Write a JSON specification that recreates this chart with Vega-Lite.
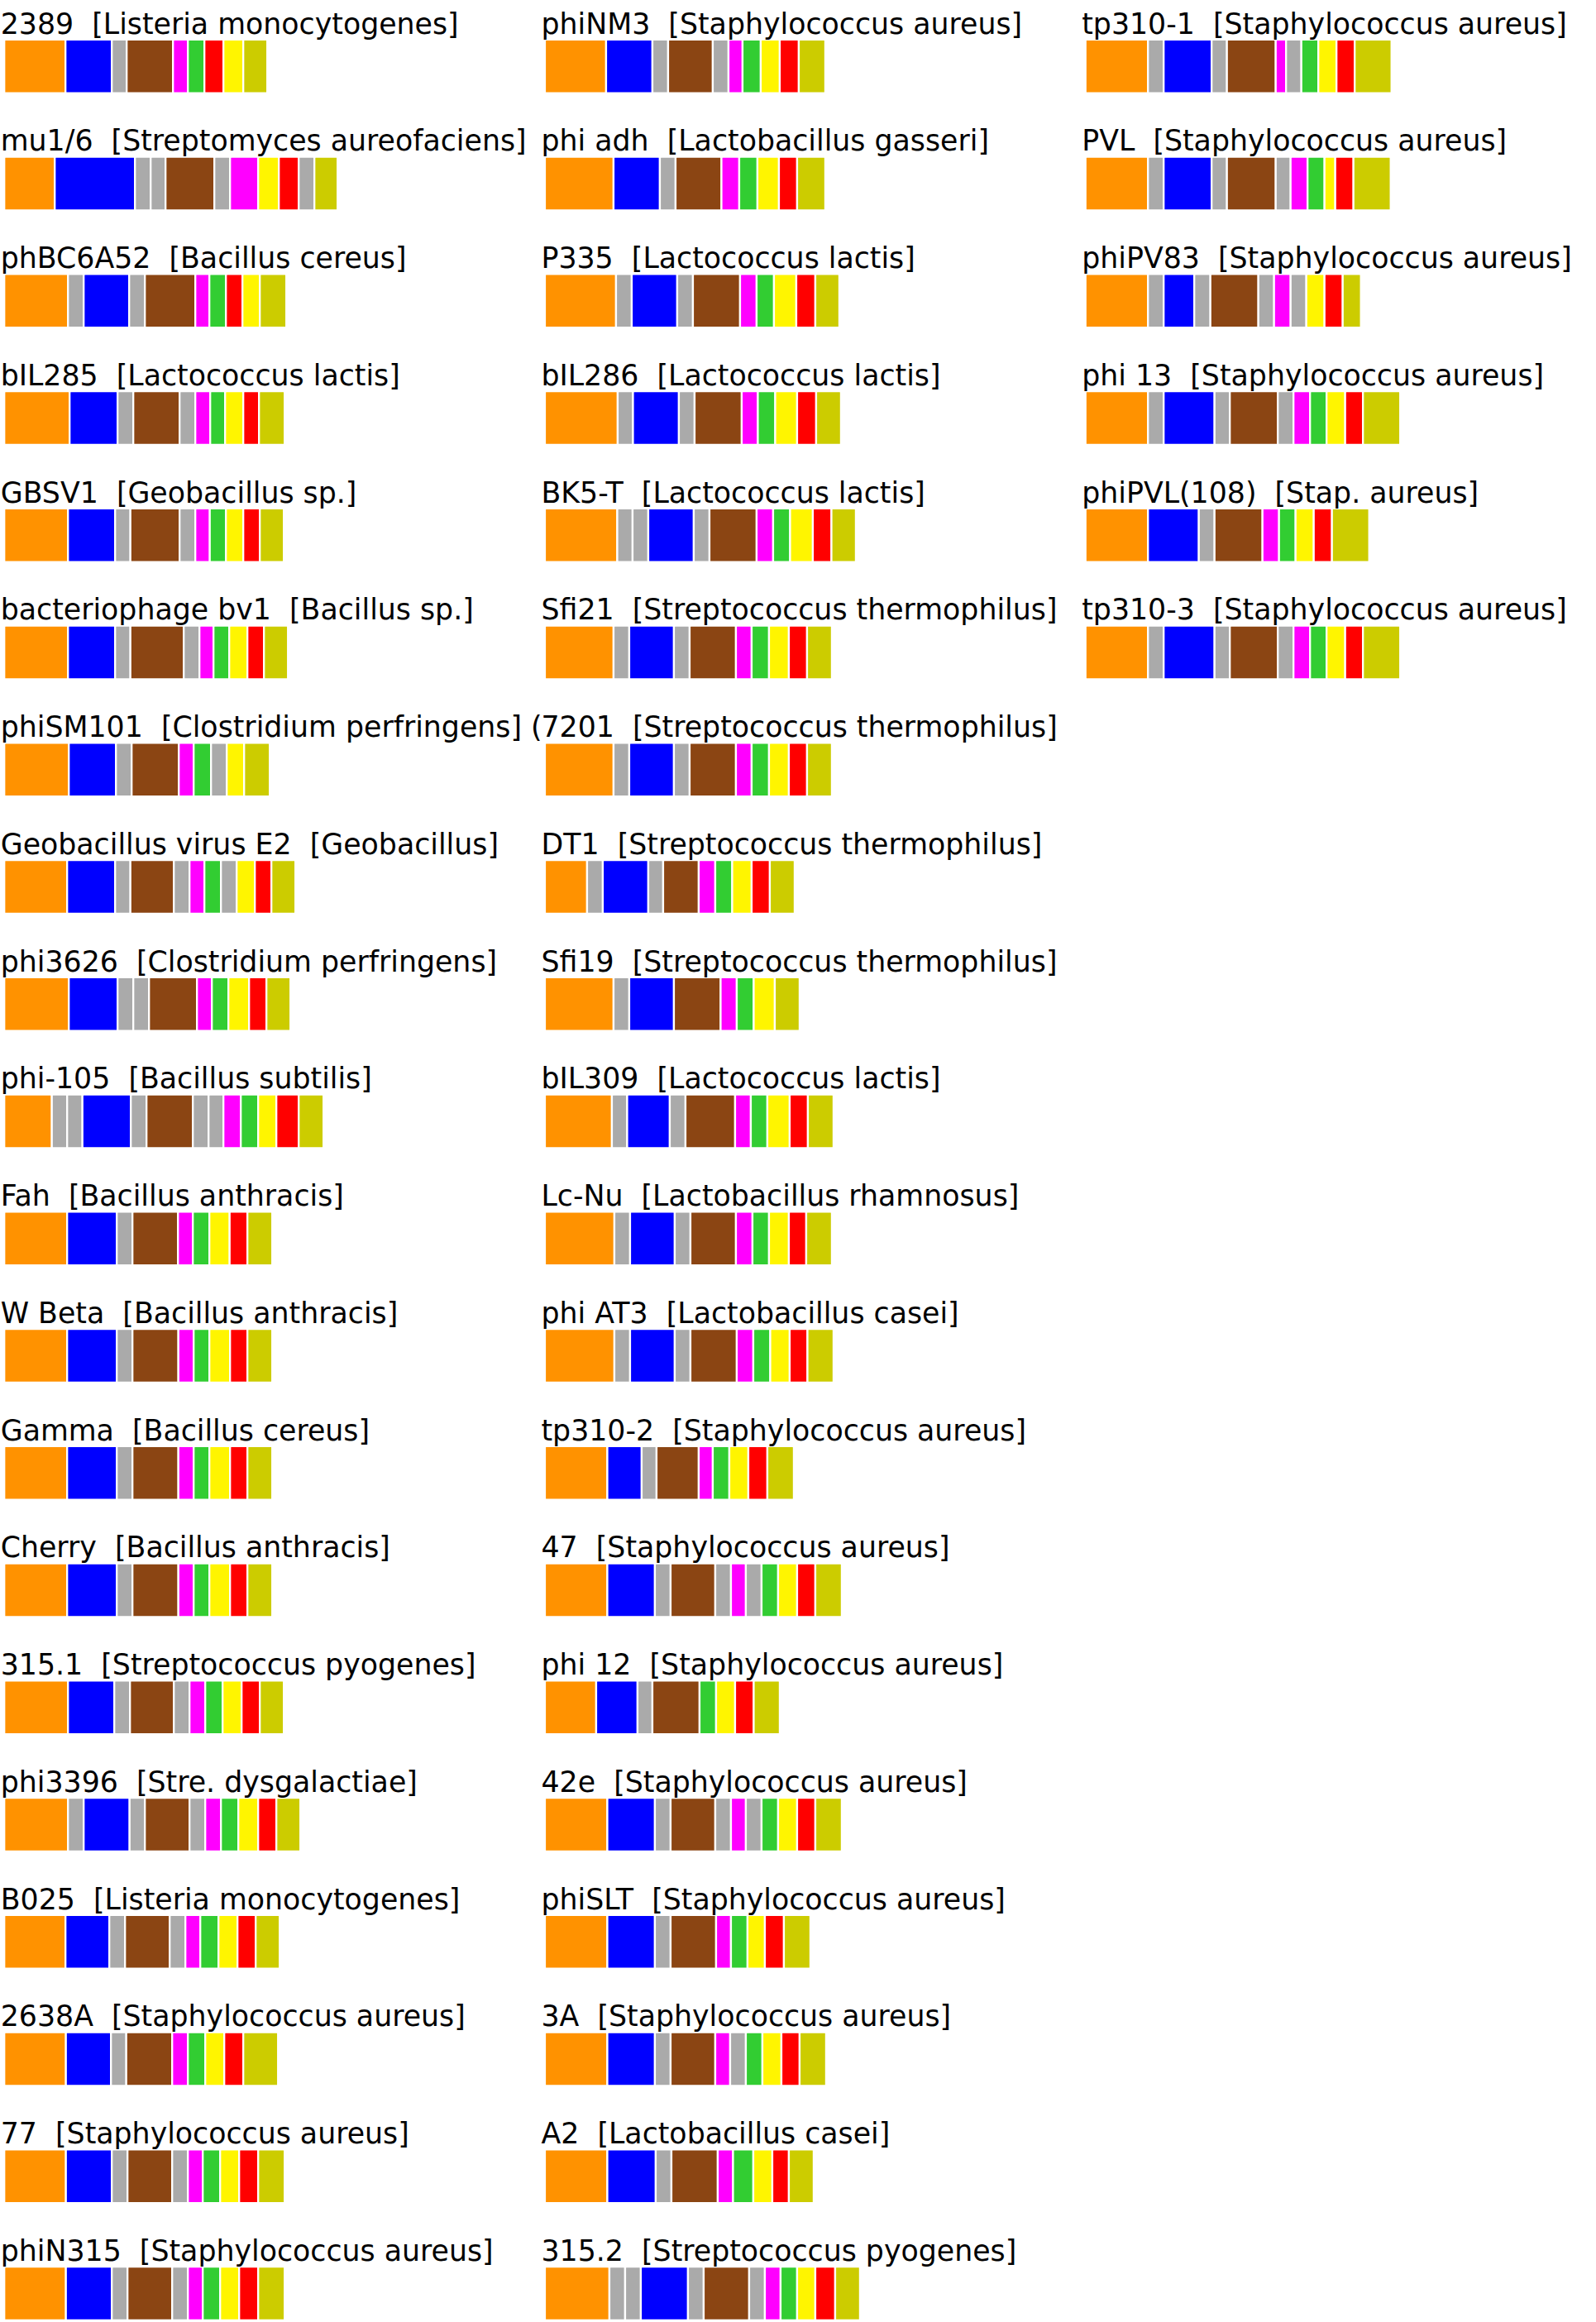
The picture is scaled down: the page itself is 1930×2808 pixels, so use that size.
{
"$schema": "https://vega.github.io/schema/vega-lite/v6.json",
"padding": 0,
"background": "white",
"bounds": "flush",
"datasets": {
"panels": [
{"p":"2389","label":"2389\u00a0\u00a0[Listeria monocytogenes]","c":1,"r":1},
{"p":"mu1/6","label":"mu1/6\u00a0\u00a0[Streptomyces aureofaciens]","c":1,"r":2},
{"p":"phBC6A52","label":"phBC6A52\u00a0\u00a0[Bacillus cereus]","c":1,"r":3},
{"p":"bIL285","label":"bIL285\u00a0\u00a0[Lactococcus lactis]","c":1,"r":4},
{"p":"GBSV1","label":"GBSV1\u00a0\u00a0[Geobacillus sp.]","c":1,"r":5},
{"p":"bacteriophage bv1","label":"bacteriophage bv1\u00a0\u00a0[Bacillus sp.]","c":1,"r":6},
{"p":"phiSM101","label":"phiSM101\u00a0\u00a0[Clostridium perfringens] (","c":1,"r":7},
{"p":"Geobacillus virus E2","label":"Geobacillus virus E2\u00a0\u00a0[Geobacillus]","c":1,"r":8},
{"p":"phi3626","label":"phi3626\u00a0\u00a0[Clostridium perfringens]","c":1,"r":9},
{"p":"phi-105","label":"phi-105\u00a0\u00a0[Bacillus subtilis]","c":1,"r":10},
{"p":"Fah","label":"Fah\u00a0\u00a0[Bacillus anthracis]","c":1,"r":11},
{"p":"W Beta","label":"W Beta\u00a0\u00a0[Bacillus anthracis]","c":1,"r":12},
{"p":"Gamma","label":"Gamma\u00a0\u00a0[Bacillus cereus]","c":1,"r":13},
{"p":"Cherry","label":"Cherry\u00a0\u00a0[Bacillus anthracis]","c":1,"r":14},
{"p":"315.1","label":"315.1\u00a0\u00a0[Streptococcus pyogenes]","c":1,"r":15},
{"p":"phi3396","label":"phi3396\u00a0\u00a0[Stre. dysgalactiae]","c":1,"r":16},
{"p":"B025","label":"B025\u00a0\u00a0[Listeria monocytogenes]","c":1,"r":17},
{"p":"2638A","label":"2638A\u00a0\u00a0[Staphylococcus aureus]","c":1,"r":18},
{"p":"77","label":"77\u00a0\u00a0[Staphylococcus aureus]","c":1,"r":19},
{"p":"phiN315","label":"phiN315\u00a0\u00a0[Staphylococcus aureus]","c":1,"r":20},
{"p":"phiNM3","label":"phiNM3\u00a0\u00a0[Staphylococcus aureus]","c":2,"r":1},
{"p":"phi adh","label":"phi adh\u00a0\u00a0[Lactobacillus gasseri]","c":2,"r":2},
{"p":"P335","label":"P335\u00a0\u00a0[Lactococcus lactis]","c":2,"r":3},
{"p":"bIL286","label":"bIL286\u00a0\u00a0[Lactococcus lactis]","c":2,"r":4},
{"p":"BK5-T","label":"BK5-T\u00a0\u00a0[Lactococcus lactis]","c":2,"r":5},
{"p":"Sfi21","label":"Sfi21\u00a0\u00a0[Streptococcus thermophilus]","c":2,"r":6},
{"p":"7201","label":"7201\u00a0\u00a0[Streptococcus thermophilus]","c":2,"r":7},
{"p":"DT1","label":"DT1\u00a0\u00a0[Streptococcus thermophilus]","c":2,"r":8},
{"p":"Sfi19","label":"Sfi19\u00a0\u00a0[Streptococcus thermophilus]","c":2,"r":9},
{"p":"bIL309","label":"bIL309\u00a0\u00a0[Lactococcus lactis]","c":2,"r":10},
{"p":"Lc-Nu","label":"Lc-Nu\u00a0\u00a0[Lactobacillus rhamnosus]","c":2,"r":11},
{"p":"phi AT3","label":"phi AT3\u00a0\u00a0[Lactobacillus casei]","c":2,"r":12},
{"p":"tp310-2","label":"tp310-2\u00a0\u00a0[Staphylococcus aureus]","c":2,"r":13},
{"p":"47","label":"47\u00a0\u00a0[Staphylococcus aureus]","c":2,"r":14},
{"p":"phi 12","label":"phi 12\u00a0\u00a0[Staphylococcus aureus]","c":2,"r":15},
{"p":"42e","label":"42e\u00a0\u00a0[Staphylococcus aureus]","c":2,"r":16},
{"p":"phiSLT","label":"phiSLT\u00a0\u00a0[Staphylococcus aureus]","c":2,"r":17},
{"p":"3A","label":"3A\u00a0\u00a0[Staphylococcus aureus]","c":2,"r":18},
{"p":"A2","label":"A2\u00a0\u00a0[Lactobacillus casei]","c":2,"r":19},
{"p":"315.2","label":"315.2\u00a0\u00a0[Streptococcus pyogenes]","c":2,"r":20},
{"p":"tp310-1","label":"tp310-1\u00a0\u00a0[Staphylococcus aureus]","c":3,"r":1},
{"p":"PVL","label":"PVL\u00a0\u00a0[Staphylococcus aureus]","c":3,"r":2},
{"p":"phiPV83","label":"phiPV83\u00a0\u00a0[Staphylococcus aureus]","c":3,"r":3},
{"p":"phi 13","label":"phi 13\u00a0\u00a0[Staphylococcus aureus]","c":3,"r":4},
{"p":"phiPVL(108)","label":"phiPVL(108)\u00a0\u00a0[Stap. aureus]","c":3,"r":5},
{"p":"tp310-3","label":"tp310-3\u00a0\u00a0[Staphylococcus aureus]","c":3,"r":6}
],
"genes": [
{"p":"2389","g":"orange","s":0,"e":74},{"p":"2389","g":"blue","s":74,"e":130},{"p":"2389","g":"gray","s":130,"e":148},{"p":"2389","g":"brown","s":148,"e":204},{"p":"2389","g":"magenta","s":204,"e":222},{"p":"2389","g":"green","s":222,"e":242},{"p":"2389","g":"red","s":242,"e":265},{"p":"2389","g":"yellow","s":265,"e":289},{"p":"2389","g":"olive","s":289,"e":318},
{"p":"mu1/6","g":"orange","s":0,"e":61},{"p":"mu1/6","g":"blue","s":61,"e":158},{"p":"mu1/6","g":"gray","s":158,"e":177},{"p":"mu1/6","g":"gray","s":177,"e":195},{"p":"mu1/6","g":"brown","s":195,"e":254},{"p":"mu1/6","g":"gray","s":254,"e":273},{"p":"mu1/6","g":"magenta","s":273,"e":307},{"p":"mu1/6","g":"yellow","s":307,"e":332},{"p":"mu1/6","g":"red","s":332,"e":356},{"p":"mu1/6","g":"gray","s":356,"e":375},{"p":"mu1/6","g":"olive","s":375,"e":403},
{"p":"phBC6A52","g":"orange","s":0,"e":77},{"p":"phBC6A52","g":"gray","s":77,"e":96},{"p":"phBC6A52","g":"blue","s":96,"e":151},{"p":"phBC6A52","g":"gray","s":151,"e":170},{"p":"phBC6A52","g":"brown","s":170,"e":231},{"p":"phBC6A52","g":"magenta","s":231,"e":248},{"p":"phBC6A52","g":"green","s":248,"e":268},{"p":"phBC6A52","g":"red","s":268,"e":288},{"p":"phBC6A52","g":"yellow","s":288,"e":309},{"p":"phBC6A52","g":"olive","s":309,"e":341},
{"p":"bIL285","g":"orange","s":0,"e":79},{"p":"bIL285","g":"blue","s":79,"e":137},{"p":"bIL285","g":"gray","s":137,"e":156},{"p":"bIL285","g":"brown","s":156,"e":212},{"p":"bIL285","g":"gray","s":212,"e":231},{"p":"bIL285","g":"magenta","s":231,"e":249},{"p":"bIL285","g":"green","s":249,"e":267},{"p":"bIL285","g":"yellow","s":267,"e":289},{"p":"bIL285","g":"red","s":289,"e":308},{"p":"bIL285","g":"olive","s":308,"e":339},
{"p":"GBSV1","g":"orange","s":0,"e":77},{"p":"GBSV1","g":"blue","s":77,"e":134},{"p":"GBSV1","g":"gray","s":134,"e":152.5},{"p":"GBSV1","g":"brown","s":152.5,"e":212},{"p":"GBSV1","g":"gray","s":212,"e":231},{"p":"GBSV1","g":"magenta","s":231,"e":248.5},{"p":"GBSV1","g":"green","s":248.5,"e":268},{"p":"GBSV1","g":"yellow","s":268,"e":289},{"p":"GBSV1","g":"red","s":289,"e":309},{"p":"GBSV1","g":"olive","s":309,"e":338},
{"p":"bacteriophage bv1","g":"orange","s":0,"e":77},{"p":"bacteriophage bv1","g":"blue","s":77,"e":134},{"p":"bacteriophage bv1","g":"gray","s":134,"e":152.5},{"p":"bacteriophage bv1","g":"brown","s":152.5,"e":217},{"p":"bacteriophage bv1","g":"gray","s":217,"e":236},{"p":"bacteriophage bv1","g":"magenta","s":236,"e":253},{"p":"bacteriophage bv1","g":"green","s":253,"e":272},{"p":"bacteriophage bv1","g":"yellow","s":272,"e":294},{"p":"bacteriophage bv1","g":"red","s":294,"e":314},{"p":"bacteriophage bv1","g":"olive","s":314,"e":343},
{"p":"phiSM101","g":"orange","s":0,"e":78},{"p":"phiSM101","g":"blue","s":78,"e":135},{"p":"phiSM101","g":"gray","s":135,"e":154},{"p":"phiSM101","g":"brown","s":154,"e":211},{"p":"phiSM101","g":"magenta","s":211,"e":229},{"p":"phiSM101","g":"green","s":229,"e":250},{"p":"phiSM101","g":"gray","s":250,"e":269},{"p":"phiSM101","g":"yellow","s":269,"e":290},{"p":"phiSM101","g":"olive","s":290,"e":321},
{"p":"Geobacillus virus E2","g":"orange","s":0,"e":76},{"p":"Geobacillus virus E2","g":"blue","s":76,"e":134},{"p":"Geobacillus virus E2","g":"gray","s":134,"e":152.5},{"p":"Geobacillus virus E2","g":"brown","s":152.5,"e":205},{"p":"Geobacillus virus E2","g":"gray","s":205,"e":224},{"p":"Geobacillus virus E2","g":"magenta","s":224,"e":242},{"p":"Geobacillus virus E2","g":"green","s":242,"e":262},{"p":"Geobacillus virus E2","g":"gray","s":262,"e":281},{"p":"Geobacillus virus E2","g":"yellow","s":281,"e":303},{"p":"Geobacillus virus E2","g":"red","s":303,"e":323},{"p":"Geobacillus virus E2","g":"olive","s":323,"e":352},
{"p":"phi3626","g":"orange","s":0,"e":78},{"p":"phi3626","g":"blue","s":78,"e":137},{"p":"phi3626","g":"gray","s":137,"e":156},{"p":"phi3626","g":"gray","s":156,"e":175},{"p":"phi3626","g":"brown","s":175,"e":233},{"p":"phi3626","g":"magenta","s":233,"e":251},{"p":"phi3626","g":"green","s":251,"e":271},{"p":"phi3626","g":"yellow","s":271,"e":296},{"p":"phi3626","g":"red","s":296,"e":317},{"p":"phi3626","g":"olive","s":317,"e":346},
{"p":"phi-105","g":"orange","s":0,"e":57.5},{"p":"phi-105","g":"gray","s":57.5,"e":76},{"p":"phi-105","g":"gray","s":76,"e":94.5},{"p":"phi-105","g":"blue","s":94.5,"e":153},{"p":"phi-105","g":"gray","s":153,"e":172},{"p":"phi-105","g":"brown","s":172,"e":228},{"p":"phi-105","g":"gray","s":228,"e":247},{"p":"phi-105","g":"gray","s":247,"e":265},{"p":"phi-105","g":"magenta","s":265,"e":286},{"p":"phi-105","g":"green","s":286,"e":307},{"p":"phi-105","g":"yellow","s":307,"e":329},{"p":"phi-105","g":"red","s":329,"e":356},{"p":"phi-105","g":"olive","s":356,"e":386},
{"p":"Fah","g":"orange","s":0,"e":76},{"p":"Fah","g":"blue","s":76,"e":136},{"p":"Fah","g":"gray","s":136,"e":155},{"p":"Fah","g":"brown","s":155,"e":210},{"p":"Fah","g":"magenta","s":210,"e":228},{"p":"Fah","g":"green","s":228,"e":248},{"p":"Fah","g":"yellow","s":248,"e":272.5},{"p":"Fah","g":"red","s":272.5,"e":294},{"p":"Fah","g":"olive","s":294,"e":324},
{"p":"W Beta","g":"orange","s":0,"e":76},{"p":"W Beta","g":"blue","s":76,"e":136},{"p":"W Beta","g":"gray","s":136,"e":155},{"p":"W Beta","g":"brown","s":155,"e":210.5},{"p":"W Beta","g":"magenta","s":210.5,"e":229},{"p":"W Beta","g":"green","s":229,"e":248},{"p":"W Beta","g":"yellow","s":248,"e":273},{"p":"W Beta","g":"red","s":273,"e":294},{"p":"W Beta","g":"olive","s":294,"e":324},
{"p":"Gamma","g":"orange","s":0,"e":76},{"p":"Gamma","g":"blue","s":76,"e":136},{"p":"Gamma","g":"gray","s":136,"e":155},{"p":"Gamma","g":"brown","s":155,"e":210.5},{"p":"Gamma","g":"magenta","s":210.5,"e":229},{"p":"Gamma","g":"green","s":229,"e":248},{"p":"Gamma","g":"yellow","s":248,"e":273},{"p":"Gamma","g":"red","s":273,"e":294},{"p":"Gamma","g":"olive","s":294,"e":324},
{"p":"Cherry","g":"orange","s":0,"e":76},{"p":"Cherry","g":"blue","s":76,"e":136},{"p":"Cherry","g":"gray","s":136,"e":155},{"p":"Cherry","g":"brown","s":155,"e":210.5},{"p":"Cherry","g":"magenta","s":210.5,"e":229},{"p":"Cherry","g":"green","s":229,"e":248},{"p":"Cherry","g":"yellow","s":248,"e":273},{"p":"Cherry","g":"red","s":273,"e":294},{"p":"Cherry","g":"olive","s":294,"e":324},
{"p":"315.1","g":"orange","s":0,"e":77},{"p":"315.1","g":"blue","s":77,"e":133},{"p":"315.1","g":"gray","s":133,"e":152},{"p":"315.1","g":"brown","s":152,"e":205},{"p":"315.1","g":"gray","s":205,"e":224},{"p":"315.1","g":"magenta","s":224,"e":243},{"p":"315.1","g":"green","s":243,"e":264},{"p":"315.1","g":"yellow","s":264,"e":287},{"p":"315.1","g":"red","s":287,"e":309},{"p":"315.1","g":"olive","s":309,"e":338},
{"p":"phi3396","g":"orange","s":0,"e":77},{"p":"phi3396","g":"gray","s":77,"e":96},{"p":"phi3396","g":"blue","s":96,"e":151.5},{"p":"phi3396","g":"gray","s":151.5,"e":170},{"p":"phi3396","g":"brown","s":170,"e":224},{"p":"phi3396","g":"gray","s":224,"e":243},{"p":"phi3396","g":"magenta","s":243,"e":262},{"p":"phi3396","g":"green","s":262,"e":283},{"p":"phi3396","g":"yellow","s":283,"e":307},{"p":"phi3396","g":"red","s":307,"e":329},{"p":"phi3396","g":"olive","s":329,"e":358},
{"p":"B025","g":"orange","s":0,"e":74},{"p":"B025","g":"blue","s":74,"e":127},{"p":"B025","g":"gray","s":127,"e":146},{"p":"B025","g":"brown","s":146,"e":200},{"p":"B025","g":"gray","s":200,"e":219},{"p":"B025","g":"magenta","s":219,"e":237},{"p":"B025","g":"green","s":237,"e":259},{"p":"B025","g":"yellow","s":259,"e":282},{"p":"B025","g":"red","s":282,"e":304},{"p":"B025","g":"olive","s":304,"e":333},
{"p":"2638A","g":"orange","s":0,"e":74.5},{"p":"2638A","g":"blue","s":74.5,"e":129},{"p":"2638A","g":"gray","s":129,"e":147.5},{"p":"2638A","g":"brown","s":147.5,"e":203},{"p":"2638A","g":"magenta","s":203,"e":222},{"p":"2638A","g":"green","s":222,"e":243},{"p":"2638A","g":"yellow","s":243,"e":266},{"p":"2638A","g":"red","s":266,"e":289},{"p":"2638A","g":"olive","s":289,"e":331},
{"p":"77","g":"orange","s":0,"e":74.5},{"p":"77","g":"blue","s":74.5,"e":130},{"p":"77","g":"gray","s":130,"e":149},{"p":"77","g":"brown","s":149,"e":203},{"p":"77","g":"gray","s":203,"e":222},{"p":"77","g":"magenta","s":222,"e":240},{"p":"77","g":"green","s":240,"e":261},{"p":"77","g":"yellow","s":261,"e":284},{"p":"77","g":"red","s":284,"e":307},{"p":"77","g":"olive","s":307,"e":339},
{"p":"phiN315","g":"orange","s":0,"e":74.5},{"p":"phiN315","g":"blue","s":74.5,"e":130},{"p":"phiN315","g":"gray","s":130,"e":149},{"p":"phiN315","g":"brown","s":149,"e":203},{"p":"phiN315","g":"gray","s":203,"e":222},{"p":"phiN315","g":"magenta","s":222,"e":240},{"p":"phiN315","g":"green","s":240,"e":261},{"p":"phiN315","g":"yellow","s":261,"e":284},{"p":"phiN315","g":"red","s":284,"e":307},{"p":"phiN315","g":"olive","s":307,"e":339},
{"p":"phiNM3","g":"orange","s":0,"e":74},{"p":"phiNM3","g":"blue","s":74,"e":130},{"p":"phiNM3","g":"gray","s":130,"e":149},{"p":"phiNM3","g":"brown","s":149,"e":203},{"p":"phiNM3","g":"gray","s":203,"e":222},{"p":"phiNM3","g":"magenta","s":222,"e":239},{"p":"phiNM3","g":"green","s":239,"e":261},{"p":"phiNM3","g":"yellow","s":261,"e":284},{"p":"phiNM3","g":"red","s":284,"e":307},{"p":"phiNM3","g":"olive","s":307,"e":339},
{"p":"phi adh","g":"orange","s":0,"e":83},{"p":"phi adh","g":"blue","s":83,"e":139},{"p":"phi adh","g":"gray","s":139,"e":158},{"p":"phi adh","g":"brown","s":158,"e":213.5},{"p":"phi adh","g":"magenta","s":213.5,"e":235},{"p":"phi adh","g":"green","s":235,"e":257},{"p":"phi adh","g":"yellow","s":257,"e":283},{"p":"phi adh","g":"red","s":283,"e":305},{"p":"phi adh","g":"olive","s":305,"e":339},
{"p":"P335","g":"orange","s":0,"e":86},{"p":"P335","g":"gray","s":86,"e":105},{"p":"P335","g":"blue","s":105,"e":160},{"p":"P335","g":"gray","s":160,"e":179},{"p":"P335","g":"brown","s":179,"e":236},{"p":"P335","g":"magenta","s":236,"e":256},{"p":"P335","g":"green","s":256,"e":277},{"p":"P335","g":"yellow","s":277,"e":304},{"p":"P335","g":"red","s":304,"e":327},{"p":"P335","g":"olive","s":327,"e":356},
{"p":"bIL286","g":"orange","s":0,"e":88},{"p":"bIL286","g":"gray","s":88,"e":106.5},{"p":"bIL286","g":"blue","s":106.5,"e":162},{"p":"bIL286","g":"gray","s":162,"e":181},{"p":"bIL286","g":"brown","s":181,"e":238},{"p":"bIL286","g":"magenta","s":238,"e":257.5},{"p":"bIL286","g":"green","s":257.5,"e":278.5},{"p":"bIL286","g":"yellow","s":278.5,"e":305},{"p":"bIL286","g":"red","s":305,"e":328},{"p":"bIL286","g":"olive","s":328,"e":358},
{"p":"BK5-T","g":"orange","s":0,"e":87.5},{"p":"BK5-T","g":"gray","s":87.5,"e":106},{"p":"BK5-T","g":"gray","s":106,"e":125},{"p":"BK5-T","g":"blue","s":125,"e":180},{"p":"BK5-T","g":"gray","s":180,"e":199},{"p":"BK5-T","g":"brown","s":199,"e":256},{"p":"BK5-T","g":"magenta","s":256,"e":276},{"p":"BK5-T","g":"green","s":276,"e":296.5},{"p":"BK5-T","g":"yellow","s":296.5,"e":324},{"p":"BK5-T","g":"red","s":324,"e":346.5},{"p":"BK5-T","g":"olive","s":346.5,"e":376},
{"p":"Sfi21","g":"orange","s":0,"e":83},{"p":"Sfi21","g":"gray","s":83,"e":102},{"p":"Sfi21","g":"blue","s":102,"e":156},{"p":"Sfi21","g":"gray","s":156,"e":175},{"p":"Sfi21","g":"brown","s":175,"e":231},{"p":"Sfi21","g":"magenta","s":231,"e":250},{"p":"Sfi21","g":"green","s":250,"e":271},{"p":"Sfi21","g":"yellow","s":271,"e":295},{"p":"Sfi21","g":"red","s":295,"e":317},{"p":"Sfi21","g":"olive","s":317,"e":347},
{"p":"7201","g":"orange","s":0,"e":83},{"p":"7201","g":"gray","s":83,"e":102},{"p":"7201","g":"blue","s":102,"e":156},{"p":"7201","g":"gray","s":156,"e":175},{"p":"7201","g":"brown","s":175,"e":231},{"p":"7201","g":"magenta","s":231,"e":250},{"p":"7201","g":"green","s":250,"e":271},{"p":"7201","g":"yellow","s":271,"e":295},{"p":"7201","g":"red","s":295,"e":317},{"p":"7201","g":"olive","s":317,"e":347},
{"p":"DT1","g":"orange","s":0,"e":51},{"p":"DT1","g":"gray","s":51,"e":70},{"p":"DT1","g":"blue","s":70,"e":125},{"p":"DT1","g":"gray","s":125,"e":143},{"p":"DT1","g":"brown","s":143,"e":186},{"p":"DT1","g":"magenta","s":186,"e":206},{"p":"DT1","g":"green","s":206,"e":226.5},{"p":"DT1","g":"yellow","s":226.5,"e":250},{"p":"DT1","g":"red","s":250,"e":272},{"p":"DT1","g":"olive","s":272,"e":302},
{"p":"Sfi19","g":"orange","s":0,"e":83},{"p":"Sfi19","g":"gray","s":83,"e":102},{"p":"Sfi19","g":"blue","s":102,"e":156},{"p":"Sfi19","g":"brown","s":156,"e":212.5},{"p":"Sfi19","g":"magenta","s":212.5,"e":232},{"p":"Sfi19","g":"green","s":232,"e":252.5},{"p":"Sfi19","g":"yellow","s":252.5,"e":278},{"p":"Sfi19","g":"olive","s":278,"e":308},
{"p":"bIL309","g":"orange","s":0,"e":81},{"p":"bIL309","g":"gray","s":81,"e":99.5},{"p":"bIL309","g":"blue","s":99.5,"e":151},{"p":"bIL309","g":"gray","s":151,"e":170},{"p":"bIL309","g":"brown","s":170,"e":230},{"p":"bIL309","g":"magenta","s":230,"e":249},{"p":"bIL309","g":"green","s":249,"e":269},{"p":"bIL309","g":"yellow","s":269,"e":296},{"p":"bIL309","g":"red","s":296,"e":318},{"p":"bIL309","g":"olive","s":318,"e":349},
{"p":"Lc-Nu","g":"orange","s":0,"e":84},{"p":"Lc-Nu","g":"gray","s":84,"e":103},{"p":"Lc-Nu","g":"blue","s":103,"e":157},{"p":"Lc-Nu","g":"gray","s":157,"e":176},{"p":"Lc-Nu","g":"brown","s":176,"e":231},{"p":"Lc-Nu","g":"magenta","s":231,"e":251},{"p":"Lc-Nu","g":"green","s":251,"e":271},{"p":"Lc-Nu","g":"yellow","s":271,"e":295},{"p":"Lc-Nu","g":"red","s":295,"e":316},{"p":"Lc-Nu","g":"olive","s":316,"e":347},
{"p":"phi AT3","g":"orange","s":0,"e":84},{"p":"phi AT3","g":"gray","s":84,"e":103},{"p":"phi AT3","g":"blue","s":103,"e":157},{"p":"phi AT3","g":"gray","s":157,"e":176},{"p":"phi AT3","g":"brown","s":176,"e":232},{"p":"phi AT3","g":"magenta","s":232,"e":252},{"p":"phi AT3","g":"green","s":252,"e":272.5},{"p":"phi AT3","g":"yellow","s":272.5,"e":296},{"p":"phi AT3","g":"red","s":296,"e":317.5},{"p":"phi AT3","g":"olive","s":317.5,"e":349},
{"p":"tp310-2","g":"orange","s":0,"e":75.5},{"p":"tp310-2","g":"blue","s":75.5,"e":117},{"p":"tp310-2","g":"gray","s":117,"e":135},{"p":"tp310-2","g":"brown","s":135,"e":186},{"p":"tp310-2","g":"magenta","s":186,"e":203},{"p":"tp310-2","g":"green","s":203,"e":223},{"p":"tp310-2","g":"yellow","s":223,"e":246},{"p":"tp310-2","g":"red","s":246,"e":269},{"p":"tp310-2","g":"olive","s":269,"e":301},
{"p":"47","g":"orange","s":0,"e":75.5},{"p":"47","g":"blue","s":75.5,"e":133},{"p":"47","g":"gray","s":133,"e":152},{"p":"47","g":"brown","s":152,"e":206},{"p":"47","g":"gray","s":206,"e":225},{"p":"47","g":"magenta","s":225,"e":243},{"p":"47","g":"gray","s":243,"e":262},{"p":"47","g":"green","s":262,"e":282},{"p":"47","g":"yellow","s":282,"e":305},{"p":"47","g":"red","s":305,"e":327},{"p":"47","g":"olive","s":327,"e":359},
{"p":"phi 12","g":"orange","s":0,"e":62},{"p":"phi 12","g":"blue","s":62,"e":112},{"p":"phi 12","g":"gray","s":112,"e":130},{"p":"phi 12","g":"brown","s":130,"e":187},{"p":"phi 12","g":"green","s":187,"e":207},{"p":"phi 12","g":"yellow","s":207,"e":230},{"p":"phi 12","g":"red","s":230,"e":252.5},{"p":"phi 12","g":"olive","s":252.5,"e":284},
{"p":"42e","g":"orange","s":0,"e":75.5},{"p":"42e","g":"blue","s":75.5,"e":133},{"p":"42e","g":"gray","s":133,"e":152},{"p":"42e","g":"brown","s":152,"e":206},{"p":"42e","g":"gray","s":206,"e":225},{"p":"42e","g":"magenta","s":225,"e":243},{"p":"42e","g":"gray","s":243,"e":262},{"p":"42e","g":"green","s":262,"e":282},{"p":"42e","g":"yellow","s":282,"e":305},{"p":"42e","g":"red","s":305,"e":327},{"p":"42e","g":"olive","s":327,"e":359},
{"p":"phiSLT","g":"orange","s":0,"e":75.5},{"p":"phiSLT","g":"blue","s":75.5,"e":133},{"p":"phiSLT","g":"gray","s":133,"e":152},{"p":"phiSLT","g":"brown","s":152,"e":207},{"p":"phiSLT","g":"magenta","s":207,"e":225},{"p":"phiSLT","g":"green","s":225,"e":245},{"p":"phiSLT","g":"yellow","s":245,"e":266},{"p":"phiSLT","g":"red","s":266,"e":289},{"p":"phiSLT","g":"olive","s":289,"e":321},
{"p":"3A","g":"orange","s":0,"e":75.5},{"p":"3A","g":"blue","s":75.5,"e":133},{"p":"3A","g":"gray","s":133,"e":152},{"p":"3A","g":"brown","s":152,"e":206},{"p":"3A","g":"magenta","s":206,"e":224},{"p":"3A","g":"gray","s":224,"e":243},{"p":"3A","g":"green","s":243,"e":263},{"p":"3A","g":"yellow","s":263,"e":286},{"p":"3A","g":"red","s":286,"e":308},{"p":"3A","g":"olive","s":308,"e":340},
{"p":"A2","g":"orange","s":0,"e":75.5},{"p":"A2","g":"blue","s":75.5,"e":134},{"p":"A2","g":"gray","s":134,"e":153},{"p":"A2","g":"brown","s":153,"e":209},{"p":"A2","g":"magenta","s":209,"e":227.5},{"p":"A2","g":"green","s":227.5,"e":252},{"p":"A2","g":"yellow","s":252,"e":275},{"p":"A2","g":"red","s":275,"e":295},{"p":"A2","g":"olive","s":295,"e":325},
{"p":"315.2","g":"orange","s":0,"e":78},{"p":"315.2","g":"gray","s":78,"e":97},{"p":"315.2","g":"gray","s":97,"e":116},{"p":"315.2","g":"blue","s":116,"e":173},{"p":"315.2","g":"gray","s":173,"e":192},{"p":"315.2","g":"brown","s":192,"e":247},{"p":"315.2","g":"gray","s":247,"e":266},{"p":"315.2","g":"magenta","s":266,"e":285},{"p":"315.2","g":"green","s":285,"e":305},{"p":"315.2","g":"yellow","s":305,"e":327},{"p":"315.2","g":"red","s":327,"e":351},{"p":"315.2","g":"olive","s":351,"e":381},
{"p":"tp310-1","g":"orange","s":0,"e":75.5},{"p":"tp310-1","g":"gray","s":75.5,"e":94.5},{"p":"tp310-1","g":"blue","s":94.5,"e":152.5},{"p":"tp310-1","g":"gray","s":152.5,"e":171},{"p":"tp310-1","g":"brown","s":171,"e":230},{"p":"tp310-1","g":"magenta","s":230,"e":242.5},{"p":"tp310-1","g":"gray","s":242.5,"e":261},{"p":"tp310-1","g":"green","s":261,"e":281.5},{"p":"tp310-1","g":"yellow","s":281.5,"e":303.5},{"p":"tp310-1","g":"red","s":303.5,"e":325.5},{"p":"tp310-1","g":"olive","s":325.5,"e":370},
{"p":"PVL","g":"orange","s":0,"e":75.5},{"p":"PVL","g":"gray","s":75.5,"e":94.5},{"p":"PVL","g":"blue","s":94.5,"e":152.5},{"p":"PVL","g":"gray","s":152.5,"e":171},{"p":"PVL","g":"brown","s":171,"e":230},{"p":"PVL","g":"gray","s":230,"e":248},{"p":"PVL","g":"magenta","s":248,"e":268.5},{"p":"PVL","g":"green","s":268.5,"e":289},{"p":"PVL","g":"yellow","s":289,"e":302},{"p":"PVL","g":"red","s":302,"e":324},{"p":"PVL","g":"olive","s":324,"e":369},
{"p":"phiPV83","g":"orange","s":0,"e":75.5},{"p":"phiPV83","g":"gray","s":75.5,"e":94.5},{"p":"phiPV83","g":"blue","s":94.5,"e":131.5},{"p":"phiPV83","g":"gray","s":131.5,"e":151},{"p":"phiPV83","g":"brown","s":151,"e":209},{"p":"phiPV83","g":"gray","s":209,"e":228},{"p":"phiPV83","g":"magenta","s":228,"e":248},{"p":"phiPV83","g":"gray","s":248,"e":267},{"p":"phiPV83","g":"yellow","s":267,"e":289},{"p":"phiPV83","g":"red","s":289,"e":311},{"p":"phiPV83","g":"olive","s":311,"e":333},
{"p":"phi 13","g":"orange","s":0,"e":75.5},{"p":"phi 13","g":"gray","s":75.5,"e":94.5},{"p":"phi 13","g":"blue","s":94.5,"e":156},{"p":"phi 13","g":"gray","s":156,"e":174.5},{"p":"phi 13","g":"brown","s":174.5,"e":232.5},{"p":"phi 13","g":"gray","s":232.5,"e":251.5},{"p":"phi 13","g":"magenta","s":251.5,"e":271.5},{"p":"phi 13","g":"green","s":271.5,"e":291.5},{"p":"phi 13","g":"yellow","s":291.5,"e":314},{"p":"phi 13","g":"red","s":314,"e":335.5},{"p":"phi 13","g":"olive","s":335.5,"e":380.5},
{"p":"phiPVL(108)","g":"orange","s":0,"e":75.5},{"p":"phiPVL(108)","g":"blue","s":75.5,"e":137},{"p":"phiPVL(108)","g":"gray","s":137,"e":156},{"p":"phiPVL(108)","g":"brown","s":156,"e":214},{"p":"phiPVL(108)","g":"magenta","s":214,"e":234},{"p":"phiPVL(108)","g":"green","s":234,"e":254},{"p":"phiPVL(108)","g":"yellow","s":254,"e":276},{"p":"phiPVL(108)","g":"red","s":276,"e":298},{"p":"phiPVL(108)","g":"olive","s":298,"e":343},
{"p":"tp310-3","g":"orange","s":0,"e":75.5},{"p":"tp310-3","g":"gray","s":75.5,"e":94.5},{"p":"tp310-3","g":"blue","s":94.5,"e":156},{"p":"tp310-3","g":"gray","s":156,"e":174.5},{"p":"tp310-3","g":"brown","s":174.5,"e":232.5},{"p":"tp310-3","g":"gray","s":232.5,"e":251.5},{"p":"tp310-3","g":"magenta","s":251.5,"e":271.5},{"p":"tp310-3","g":"green","s":271.5,"e":291.5},{"p":"tp310-3","g":"yellow","s":291.5,"e":314},{"p":"tp310-3","g":"red","s":314,"e":335.5},{"p":"tp310-3","g":"olive","s":335.5,"e":380.5}
]
},
"data": {"name": "genes"},
"transform": [
{"lookup": "p", "from": {"data": {"name": "panels"}, "key": "p", "fields": ["label", "c", "r"]}}
],
"facet": {"column": {"field": "c", "type": "ordinal", "header": {"labels": false, "title": null, "labelPadding": 0, "titlePadding": 0}}},
"spacing": 33.75,
"spec": {
"width": 620,
"height": 2806,
"layer": [
{
"mark": {"type": "rect", "stroke": "white", "strokeWidth": 2.3, "cornerRadius": 1.5},
"encoding": {
"x": {"field": "s", "type": "quantitative", "scale": {"domain": [-4.2, 615.8], "nice": false, "zero": false}, "axis": null},
"x2": {"field": "e"},
"y": {"field": "r", "type": "ordinal", "scale": {"domain": [1,2,3,4,5,6,7,8,9,10,11,12,13,14,15,16,17,18,19,20], "paddingInner": 0.5414, "paddingOuter": 0.1684, "align": 1}, "axis": null},
"color": {"field": "g", "type": "nominal", "legend": null, "scale": {"domain": ["orange","blue","gray","brown","magenta","green","yellow","red","olive"], "range": ["#ff9200","#0000ff","#aaaaaa","#8b4513","#ff00ff","#32cd32","#fff500","#ff0000","#cccc00"]}}
}
},
{
"transform": [{"filter": "datum.s == 0"}],
"mark": {"type": "text", "align": "left", "baseline": "alphabetic", "dx": -4.5, "dy": -7, "fontSize": 34.75, "font": "DejaVu Sans", "color": "black"},
"encoding": {
"x": {"field": "s", "type": "quantitative"},
"y": {"field": "r", "type": "ordinal", "bandPosition": 0},
"text": {"field": "label"}
}
}
]
},
"config": {"view": {"stroke": null}}
}
